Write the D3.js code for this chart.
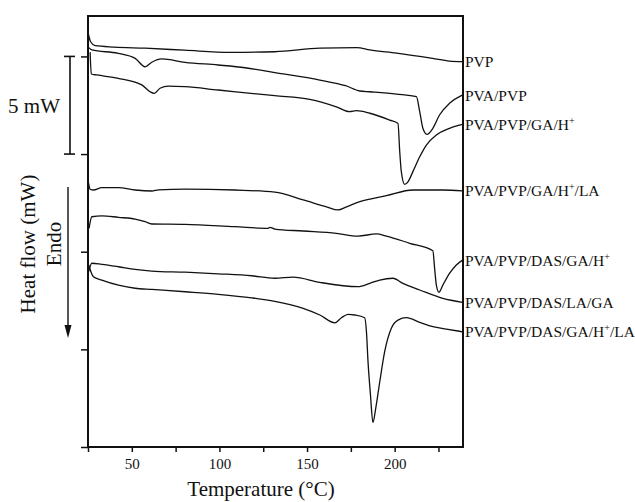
<!DOCTYPE html>
<head>
    <meta charset="utf-8">
    <script src="https://cdn.jsdelivr.net/npm/d3@7/dist/d3.min.js"></script>
    <style>
        body {
            margin: 0;
            background: #fff;
        }

        svg text {
            font-family: "Liberation Serif", "Times New Roman", serif;
            fill: #111;
        }

        .axis text {
            font-size: 15px;
        }

        .axis line {
            stroke: #111;
            stroke-width: 1.5;
        }

        .axis path {
            display: none;
        }

        .line {
            fill: none;
            stroke: #111;
            stroke-width: 1.3px;
        }
    </style>
</head>
<body>
<div id="dsc"></div>
<script type="text/javascript">
    // DSC curves: [temperature (°C), heat flow (mW, offset)]
    var pvp = [
        [25.2, 21.15], [26.5, 20.75], [29.1, 20.55], [40, 20.48], [57.6, 20.42], [80, 20.32],
        [106, 20.21], [131.6, 20.24], [157.3, 20.42], [178.4, 20.45], [185.8, 20.33],
        [201.1, 20.17], [221.6, 19.9], [231.3, 19.76], [238.7, 19.73]
    ];
    var pvaPvp = [
        [25.5, 20.45], [27.2, 20.33], [42.2, 20.16], [51.9, 19.9], [57.6, 19.47], [61.4, 19.7],
        [67.1, 19.87], [80.4, 19.7], [99.2, 19.56], [114.6, 19.42], [131.6, 19.17],
        [157.3, 18.79], [172, 18.5], [180.1, 18.23], [185.8, 18.19], [201, 18.07],
        [212.4, 17.94], [214.3, 17.17], [216.1, 16.32], [218.4, 16.01], [221.8, 16.32],
        [225.6, 17.0], [231.3, 17.6], [238, 17.99], [238.7, 18.02]
    ];
    var pvaPvpGaH = [
        [26.2, 20.22], [26.9, 19.1], [30, 19.05], [42.2, 18.88], [55.7, 18.54], [60.4, 18.19],
        [62.9, 18.11], [66.1, 18.37], [70.9, 18.48], [80.4, 18.45], [99.3, 18.28],
        [131.6, 17.99], [151.5, 17.8], [166.7, 17.42], [174.3, 17.17], [178.2, 17.22],
        [185.8, 17.09], [197.2, 16.74], [201.9, 16.57], [202.9, 15.12], [203.8, 14.1],
        [205.7, 13.45], [207.6, 13.58], [210.4, 14.1], [214.3, 14.86], [218.1, 15.46],
        [223.8, 15.98], [231.3, 16.32], [238.7, 16.52]
    ];
    var pvaPvpGaHLa = [
        [25.3, 13.52], [26.2, 13.2], [28.1, 13.16], [32.9, 13.28], [42.4, 13.28], [51.9, 13.16],
        [61.4, 13.11], [65.2, 13.17], [80.4, 13.21], [108.9, 13.16], [131.6, 13.05],
        [147.8, 12.65], [161.1, 12.3], [167.7, 12.14], [172.5, 12.3], [180.1, 12.56],
        [195.3, 12.87], [210.4, 13.16], [227.5, 13.16], [238.7, 13.11]
    ];
    var pvaPvpDasGaH = [
        [25.6, 11.2], [27.2, 11.79], [32.9, 11.84], [42.4, 11.76], [51.9, 11.67], [57.6, 11.54],
        [61.4, 11.42], [80.4, 11.4], [108.9, 11.28], [127.8, 11.2], [128.8, 11.25],
        [131.6, 11.16], [147.8, 11.06], [166.7, 10.94], [179.1, 10.8], [189.6, 10.91],
        [195.3, 10.8], [208.6, 10.43], [221.8, 10.05], [222.8, 9.15], [223.8, 8.29],
        [225.3, 7.92], [227.5, 8.29], [231.3, 8.89], [235.2, 9.32], [238.7, 9.57]
    ];
    var pvaPvpDasLaGa = [
        [25.4, 8.98], [27.2, 9.41], [32.9, 9.35], [42.4, 9.23], [51.9, 9.1], [61.4, 9.01],
        [80.4, 8.95], [99.3, 8.87], [118.4, 8.77], [131.6, 8.64], [142.1, 8.7],
        [157.3, 8.43], [179.1, 8.21], [185.8, 8.38], [191.5, 8.55], [199, 8.64],
        [204.7, 8.38], [214.3, 8.04], [227.5, 7.61], [238.7, 7.41]
    ];
    var pvaPvpDasGaHLa = [
        [25.4, 9.32], [28.1, 8.72], [32.9, 8.55], [42.4, 8.29], [51.9, 8.13], [61.4, 8.07],
        [80.4, 7.95], [99.3, 7.82], [118.4, 7.64], [131.6, 7.46], [147.8, 7.1],
        [157.3, 6.76], [165.9, 6.36], [169.6, 6.62], [173.4, 6.79], [177.2, 6.76],
        [182.9, 6.62], [183.9, 5.9], [184.8, 4.37], [186.2, 2.66], [187.6, 1.26],
        [189.2, 1.98], [191.5, 3.34], [194.3, 4.88], [198.1, 6.08], [201.9, 6.5],
        [206.7, 6.62], [214.3, 6.38], [221.8, 6.16], [229.5, 6.04], [238.7, 5.9]
    ];

    var seriesNames = [
        "PVP", "PVA/PVP", "PVA/PVP/GA/H+", "PVA/PVP/GA/H+/LA",
        "PVA/PVP/DAS/GA/H+", "PVA/PVP/DAS/LA/GA", "PVA/PVP/DAS/GA/H+/LA"
    ];
    var seriesData = [pvp, pvaPvp, pvaPvpGaH, pvaPvpGaHLa, pvaPvpDasGaH, pvaPvpDasLaGa, pvaPvpDasGaHLa];

    var xTicks = [25, 50, 75, 100, 125, 150, 175, 200, 225];
    var xTickLabels = [50, 100, 150, 200];
    var yTicks = [0, 5, 10, 15, 20];

    var margin = {top: 16, right: 172, bottom: 55, left: 88},
        width = 635 - margin.left - margin.right,
        height = 502 - margin.top - margin.bottom;

    var svg = d3.select("#dsc").append("svg")
        .attr("width", 635)
        .attr("height", 502);
    var g = svg.append("g")
        .attr("transform", "translate(" + margin.left + "," + margin.top + ")");

    var xScale = d3.scaleLinear().domain([25, 239]).range([0, width]);
    var yScale = d3.scaleLinear().domain([0, 22.07]).range([height, 0]);

    var xAxis = d3.axisBottom(xScale).tickValues(xTicks).tickSize(5).tickSizeOuter(0)
        .tickFormat(function (d) {
            return xTickLabels.indexOf(d) >= 0 ? d : "";
        });
    var yAxis = d3.axisLeft(yScale).tickValues(yTicks).tickSize(7).tickSizeOuter(0)
        .tickFormat("");

    g.append("g")
        .attr("class", "x axis")
        .attr("transform", "translate(0," + height + ")")
        .call(xAxis)
        .selectAll("text")
        .attr("dy", "0.9em");
    g.append("g")
        .attr("class", "y axis")
        .call(yAxis);

    var line = d3.line()
        .x(function (d) {
            return xScale(d[0]);
        })
        .y(function (d) {
            return yScale(d[1]);
        })
        .curve(d3.curveMonotoneX);

    g.selectAll(".line").data(seriesData).enter()
        .append("path")
        .attr("class", "line")
        .attr("d", line);

    // frame
    g.append("rect")
        .attr("width", width)
        .attr("height", height)
        .attr("fill", "none")
        .attr("stroke", "#111")
        .attr("stroke-width", 2);

    // series labels at the right end, "+" as superscript
    var labels = g.selectAll(".label").data(seriesNames).enter()
        .append("text")
        .attr("class", "label")
        .attr("x", width + 2)
        .attr("y", function (d, i) {
            var s = seriesData[i];
            return yScale(s[s.length - 1][1]);
        })
        .attr("dy", "0.35em")
        .style("font-size", "15.5px");
    labels.each(function (d) {
        var t = d3.select(this);
        var parts = d.split("+");
        parts.forEach(function (p, j) {
            if (j > 0) {
                t.append("tspan").attr("dy", -6).style("font-size", "10px").text("+");
                t.append("tspan").attr("dy", 6).text(p);
            } else {
                t.append("tspan").text(p);
            }
        });
    });

    g.append("text")
        .attr("x", 261 - margin.left)
        .attr("y", height + 49)
        .attr("text-anchor", "middle")
        .style("font-size", "21px")
        .text("Temperature (°C)");

    // 5 mW scale bar
    var bar = svg.append("g").attr("transform", "translate(70," + margin.top + ")");
    bar.append("line").attr("x1", 0).attr("x2", 0)
        .attr("y1", yScale(20)).attr("y2", yScale(15))
        .attr("stroke", "#111").attr("stroke-width", 1.6);
    [20, 15].forEach(function (v) {
        bar.append("line").attr("x1", -6).attr("x2", 5)
            .attr("y1", yScale(v)).attr("y2", yScale(v))
            .attr("stroke", "#111").attr("stroke-width", 1.6);
    });
    svg.append("text")
        .attr("x", 34)
        .attr("y", margin.top + yScale(17.5))
        .attr("dy", "0.35em")
        .attr("text-anchor", "middle")
        .style("font-size", "21px")
        .text("5 mW");

    svg.append("text")
        .attr("transform", "translate(28,244) rotate(-90)")
        .attr("dy", "0.35em")
        .attr("text-anchor", "middle")
        .style("font-size", "21px")
        .text("Heat flow (mW)");
    svg.append("text")
        .attr("transform", "translate(54,244) rotate(-90)")
        .attr("dy", "0.35em")
        .attr("text-anchor", "middle")
        .style("font-size", "21px")
        .text("Endo");

    // endo arrow
    svg.append("line")
        .attr("x1", 68).attr("x2", 68)
        .attr("y1", 187).attr("y2", 327)
        .attr("stroke", "#111").attr("stroke-width", 1.4);
    svg.append("path")
        .attr("d", "M64.5,325L71.5,325L68,338Z")
        .attr("fill", "#111");
</script>
</body>
</html>
